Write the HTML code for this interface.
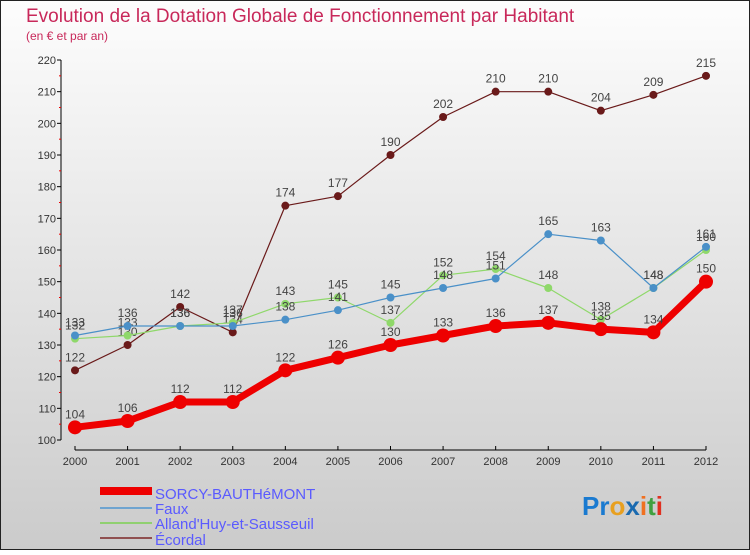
<!DOCTYPE html>
<html><head><meta charset="utf-8"><style>
body{margin:0;width:750px;height:550px;overflow:hidden;font-family:"Liberation Sans",sans-serif}
</style></head><body>
<svg width="750" height="550" xmlns="http://www.w3.org/2000/svg">
<defs><linearGradient id="bg" x1="0" y1="0" x2="0" y2="1"><stop offset="0" stop-color="#fdfdfd"/><stop offset="1" stop-color="#cbcbcb"/></linearGradient></defs>
<rect x="0.5" y="0.5" width="749" height="549" fill="url(#bg)" stroke="#222"/>
<text x="26" y="22" font-size="19" fill="#c8285a">Evolution de la Dotation Globale de Fonctionnement par Habitant</text>
<text x="26" y="40" font-size="12" fill="#c8285a">(en € et par an)</text>
<g id="axes"></g><g id="series"></g>
<g font-size="15" fill="#5a5aff">
<rect x="100" y="487" width="52" height="8" fill="#e00"/>
<text x="155" y="499">SORCY-BAUTHéMONT</text>
<line x1="100" y1="508" x2="152" y2="508" stroke="#6fa4d0" stroke-width="2"/>
<text x="155" y="514">Faux</text>
<line x1="100" y1="523" x2="152" y2="523" stroke="#90d070" stroke-width="2"/>
<text x="155" y="529">Alland'Huy-et-Sausseuil</text>
<line x1="100" y1="538" x2="152" y2="538" stroke="#905050" stroke-width="2"/>
<text x="155" y="545">Écordal</text>
</g>
<text x="582" y="515" font-size="26" font-weight="bold"><tspan fill="#1a7ad0">Pr</tspan><tspan fill="#e8a020">o</tspan><tspan fill="#1a6ab0">x</tspan><tspan fill="#f07020">i</tspan><tspan fill="#40a040">t</tspan><tspan fill="#e03020">i</tspan></text>
</svg>
<script>
const years=[2000,2001,2002,2003,2004,2005,2006,2007,2008,2009,2010,2011,2012];
const yTicks=[100,110,120,130,140,150,160,170,180,190,200,210,220];
const sorcy=[104,106,112,112,122,126,130,133,136,137,135,134,150];
const faux=[133,136,136,136,138,141,145,148,151,165,163,148,161];
const alland=[132,133,136,137,143,145,137,152,154,148,138,148,160];
const ecordal=[122,130,142,134,174,177,190,202,210,210,204,209,215];
const NS="http://www.w3.org/2000/svg";
const xs=i=>75+i*(706-75)/(years.length-1);
const ys=v=>440-(v-100)*(380/120);
function mk(t,a,p){const e=document.createElementNS(NS,t);for(const k in a)e.setAttribute(k,a[k]);p.appendChild(e);return e;}
const ax=document.getElementById('axes');
let e=mk('line',{x1:61,y1:60,x2:61,y2:440,stroke:'#000'},ax);


e=mk('line',{x1:75,y1:450,x2:706,y2:450,stroke:'#000'},ax);


yTicks.forEach(v=>{
 mk('line',{x1:57,y1:ys(v),x2:61,y2:ys(v),stroke:'#000'},ax);
 mk('line',{x1:59,y1:ys(v+5),x2:61,y2:ys(v+5),stroke:v<220?'#e00':'none'},ax);
 const t=mk('text',{x:56,y:ys(v)+4,'font-size':11,'text-anchor':'end',fill:'#333'},ax);t.textContent=v;
 
 
});
years.forEach((y,i)=>{
 mk('line',{x1:xs(i),y1:446,x2:xs(i),y2:450,stroke:'#000'},ax);
 const t=mk('text',{x:xs(i),y:465,'font-size':11,'text-anchor':'middle',fill:'#333'},ax);t.textContent=y;
 
 
});
const sg=document.getElementById('series');
function draw(data,color,w,r,name){
 const g=mk('g',{},sg);
 
 
 const pl=mk('polyline',{points:data.map((v,i)=>xs(i)+','+ys(v)).join(' '),fill:'none',stroke:color,'stroke-width':w,'stroke-linejoin':'round'},g);
 
 
 data.forEach((v,i)=>{
  const c=mk('circle',{cx:xs(i),cy:ys(v),r:r,fill:color},g);
  
  
  const t=mk('text',{x:xs(i),y:ys(v)-9,'font-size':12,'text-anchor':'middle',fill:'#444'},g);t.textContent=v;
  
  
 });
}
draw(ecordal,'#6a1a1a',1.2,4,'ecordal');
draw(alland,'#8fd86a',1.2,4,'alland');
draw(faux,'#4a90c8',1.2,4,'faux');
draw(sorcy,'#ee0000',7,7,'sorcy');
</script>
</body></html>
